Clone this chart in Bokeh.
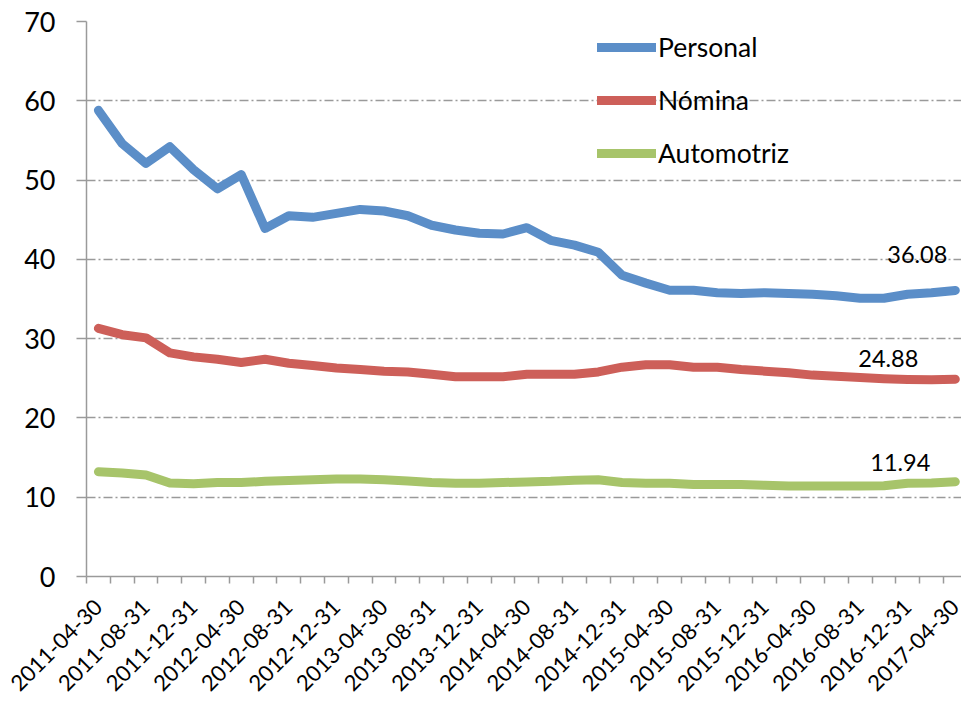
from bokeh.plotting import figure
from bokeh.models import (ColumnDataSource, Range1d, FixedTicker, Legend, LegendItem)
from bokeh.embed import file_html
from bokeh.resources import INLINE
from bokeh.core.properties import value

# ---------------- data ----------------
dates = ["2011-04-30", "2011-06-30", "2011-08-31", "2011-10-31", "2011-12-31",
         "2012-02-29", "2012-04-30", "2012-06-30", "2012-08-31", "2012-10-31", "2012-12-31",
         "2013-02-28", "2013-04-30", "2013-06-30", "2013-08-31", "2013-10-31", "2013-12-31",
         "2014-02-28", "2014-04-30", "2014-06-30", "2014-08-31", "2014-10-31", "2014-12-31",
         "2015-02-28", "2015-04-30", "2015-06-30", "2015-08-31", "2015-10-31", "2015-12-31",
         "2016-02-29", "2016-04-30", "2016-06-30", "2016-08-31", "2016-10-31", "2016-12-31",
         "2017-02-28", "2017-04-30"]

personal = [58.8, 54.6, 52.1, 54.2, 51.3, 48.9, 50.7, 43.9, 45.5, 45.3,
            45.8, 46.3, 46.1, 45.5, 44.3, 43.7, 43.3, 43.2, 44.0, 42.4,
            41.8, 40.9, 38.0, 37.0, 36.1, 36.1, 35.8, 35.7, 35.8, 35.7,
            35.6, 35.4, 35.1, 35.1, 35.6, 35.8, 36.08]

nomina = [31.3, 30.5, 30.1, 28.2, 27.7, 27.4, 27.0, 27.4, 26.9, 26.6,
          26.3, 26.1, 25.9, 25.8, 25.5, 25.2, 25.2, 25.2, 25.5, 25.5,
          25.5, 25.8, 26.4, 26.7, 26.7, 26.4, 26.4, 26.1, 25.9, 25.7,
          25.4, 25.25, 25.1, 24.95, 24.85, 24.8, 24.88]

automotriz = [13.2, 13.06, 12.8, 11.8, 11.7, 11.85, 11.85, 12.0, 12.1, 12.2,
              12.3, 12.3, 12.2, 12.05, 11.85, 11.76, 11.76, 11.85, 11.93, 12.0,
              12.14, 12.2, 11.85, 11.76, 11.76, 11.6, 11.6, 11.6, 11.5, 11.4,
              11.4, 11.4, 11.4, 11.45, 11.76, 11.8, 11.94]

series_names = ["Personal", "Nómina", "Automotriz"]
series_values = [personal, nomina, automotriz]
y_ticks = [0, 10, 20, 30, 40, 50, 60, 70]

# ---------------- styles ----------------
colors = ["#5B8EC8", "#CD5F59", "#A7C46A"]
label_offsets = [(-38, -36), (-67, -21), (-55, -19)]
FONT = "Lato"
GRAY = "#9A9A9A"

x = list(range(len(dates)))

p = figure(width=961, height=703, output_backend="svg", toolbar_location=None,
           x_range=Range1d(-0.5, 36.26), y_range=Range1d(0, 70),
           min_border_left=86, min_border_right=0, min_border_top=21,
           min_border_bottom=127)
p.outline_line_color = None
p.background_fill_color = "white"
p.border_fill_color = "white"

renderers = []
for name, vals, col in zip(series_names, series_values, colors):
    src = ColumnDataSource(dict(x=x, y=vals))
    r = p.line("x", "y", source=src, line_color=col, line_width=9,
               line_cap="round", line_join="round")
    renderers.append(r)

# data labels for the final values
last_x = [x[-1]] * len(series_values)
last_y = [v[-1] for v in series_values]
lab_src = ColumnDataSource(dict(
    x=last_x, y=last_y,
    text=[f"{v:.2f}" for v in last_y],
    xo=[o[0] for o in label_offsets], yo=[o[1] for o in label_offsets]))
p.text("x", "y", text="text", source=lab_src, x_offset="xo", y_offset="yo",
       text_font=value(FONT), text_font_size="23.5px", text_color="black",
       text_align="center", text_baseline="middle")

# x axis
xa = p.xaxis[0]
xa.ticker = FixedTicker(ticks=x[::2],
                        minor_ticks=[i - 0.5 for i in range(len(dates) + 1)])
xa.major_label_overrides = {i: dates[i] for i in x[::2]}
xa.major_label_orientation = 0.785398
xa.major_tick_line_color = None
xa.major_tick_out = 7
xa.major_tick_in = 0
xa.minor_tick_out = 7
xa.minor_tick_in = 0
xa.minor_tick_line_color = GRAY
xa.minor_tick_line_width = 1.5
xa.axis_line_color = GRAY
xa.axis_line_width = 1.5
xa.major_label_text_font = FONT
xa.major_label_text_font_size = "22px"
xa.major_label_text_color = "black"
xa.major_label_standoff = 20

# y axis
ya = p.yaxis[0]
ya.ticker = FixedTicker(ticks=y_ticks)
ya.major_tick_out = 10
ya.major_tick_in = 0
ya.minor_tick_line_color = None
ya.major_tick_line_color = GRAY
ya.major_tick_line_width = 1.5
ya.axis_line_color = GRAY
ya.axis_line_width = 1.5
ya.major_label_text_font = FONT
ya.major_label_text_font_size = "27px"
ya.major_label_text_color = "black"
ya.major_label_standoff = 21

p.xgrid.visible = False
p.ygrid.grid_line_color = GRAY
p.ygrid.grid_line_width = 1.5
p.ygrid.grid_line_dash = "9 3 2 3"

legend = Legend(items=[LegendItem(label=n, renderers=[r])
                       for n, r in zip(series_names, renderers)],
                location=(511, 407), orientation="vertical",
                padding=0, margin=0, spacing=21,
                glyph_width=59, glyph_height=32, label_height=32,
                label_standoff=2,
                label_text_font=FONT, label_text_font_size="26.5px",
                label_text_color="black",
                border_line_color=None, background_fill_alpha=0)
p.add_layout(legend)

open("out.html", "w").write(file_html(p, INLINE))
